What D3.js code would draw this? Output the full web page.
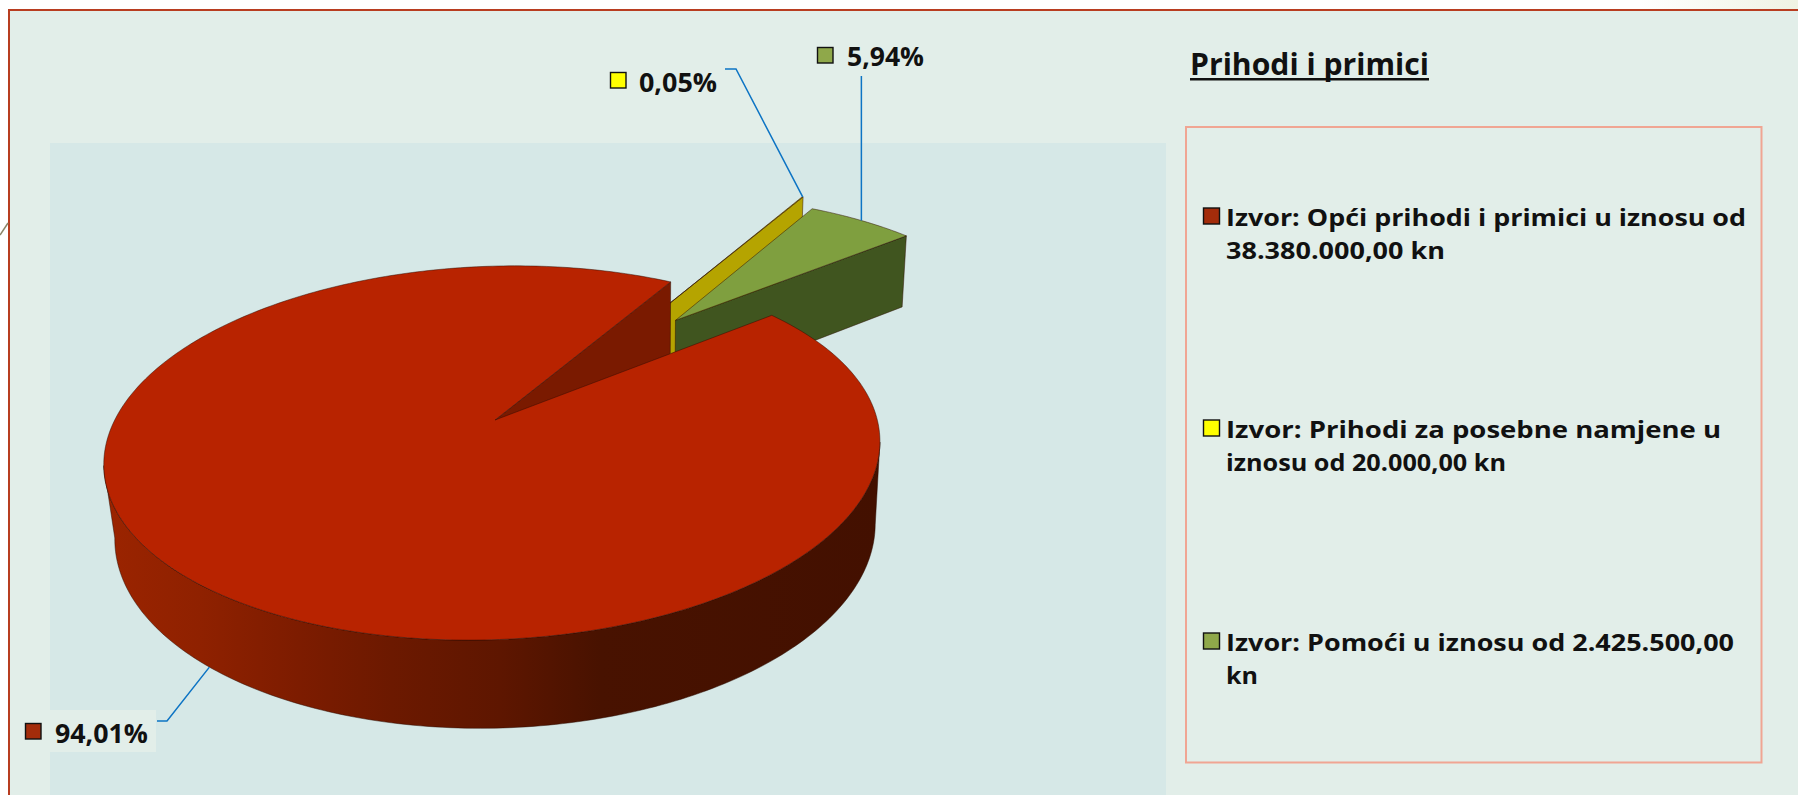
<!DOCTYPE html>
<html>
<head>
<meta charset="utf-8">
<script src="https://cdn.jsdelivr.net/npm/d3@7"></script>
<style>
  html, body { margin: 0; padding: 0; background: #fff; }
  svg { display: block; }
  text { font-family: "Open Sans", Lato, sans-serif; font-weight: 700; fill: #111; }
</style>
</head>
<body>
<svg width="1798" height="795"></svg>
<script>
// Chart data
const sources = ['Opći prihodi i primici', 'Prihodi za posebne namjene', 'Pomoći'];
const amounts = [38380000, 20000, 2425500];
const percentLabels = ['94,01%', '0,05%', '5,94%'];
const legendLines = [
  ['Izvor: Opći prihodi i primici u iznosu od', '38.380.000,00 kn'],
  ['Izvor: Prihodi za posebne namjene u', 'iznosu od 20.000,00 kn'],
  ['Izvor: Pomoći u iznosu od 2.425.500,00', 'kn'],
];
const keyColors = ['#a32c0b', '#ffff00', '#8fa84a'];
const topColors = ['#b82300', '#c4b000', '#7f9f3f'];
const wallColors = ['#7a1a00', '#b5a400', '#40551f'];
const explode = [0.42, 0.415, 0.345];
const nudge = [[0, 0], [-0.012, 0.002], [0.002, 0.016]];
const radius = [1, 1, 0.975];

const svg = d3.select('svg');
const defs = svg.append('defs');

// Background panels
const topFade = defs.append('linearGradient').attr('id', 'topFade');
topFade.append('stop').attr('offset', 0).attr('stop-color', '#fff');
topFade.append('stop').attr('offset', 1).attr('stop-color', '#eff3e3');
svg.append('rect').attr('x', 1640).attr('y', 0).attr('width', 158).attr('height', 10).attr('fill', 'url(#topFade)');
svg.append('rect').attr('x', 9).attr('y', 10).attr('width', 1800).attr('height', 800)
  .attr('fill', '#e2eee9').attr('stroke', '#b83d20').attr('stroke-width', 2);
svg.append('rect').attr('x', 50).attr('y', 143).attr('width', 1116).attr('height', 652).attr('fill', '#d6e8e7');
svg.append('line').attr('x1', 0).attr('y1', 235).attr('x2', 8).attr('y2', 223).attr('stroke', '#8a8468').attr('stroke-width', 1.5);

// Camera for the tilted pie: unit disc around the main slice's apex
const apex = [495, 420];
const sx = 382, sy = 181, shear = 11, persp = 0.176, perspX = 0.008, depth = 79, depthPersp = 0.02, depthShift = 3;
function project(u, v, h) {
  const w = 1 + persp * v + perspX * u + depthPersp * h;
  return [apex[0] + (sx * u + depthShift * h) / w, apex[1] + (-sy * v - shear * (1 - 0.35 * h) * u + depth * h) / w];
}

const startAngle = 53.6 * Math.PI / 180;
const arcs = d3.pie().sort(null).startAngle(startAngle).endAngle(startAngle + 2 * Math.PI)(amounts);
const mid = d => (d.startAngle + d.endAngle) / 2;
const mainMid = mid(arcs[0]);

// offset of a slice in disc units, relative to the main slice's apex
function offset(d) {
  const a = mid(d), e = explode[d.index], n = nudge[d.index];
  return [e * Math.sin(a) - explode[0] * Math.sin(mainMid) + n[0], e * Math.cos(a) - explode[0] * Math.cos(mainMid) + n[1]];
}
function rimPoint(d, a, h) {
  const o = offset(d), r = radius[d.index];
  return project(o[0] + r * Math.sin(a), o[1] + r * Math.cos(a), h);
}
function apexPoint(d, h) {
  const o = offset(d);
  return project(o[0], o[1], h);
}

const line = d3.line();
function rimAngles(a0, a1) {
  const n = Math.max(2, Math.ceil(Math.abs(a1 - a0) * 60));
  return d3.range(n + 1).map(i => a0 + (a1 - a0) * i / n);
}
function addPath(pts, fill) {
  return svg.append('path').attr('d', line(pts) + 'Z').attr('fill', fill)
    .attr('stroke', '#2a0a00').attr('stroke-width', 0.8).attr('stroke-opacity', 0.6).attr('stroke-linejoin', 'round');
}

// Gradient on the outer wall of the main slice
const wallStops = [[0, '#9b2400'], [0.124, '#8f2100'], [0.25, '#7d1c00'], [0.37, '#6c1900'], [0.51, '#5e1600'], [0.64, '#481200'], [1, '#431000']];
const grad = defs.append('linearGradient').attr('id', 'wall').attr('gradientUnits', 'userSpaceOnUse')
  .attr('x1', 104).attr('x2', 880).attr('y1', 0).attr('y2', 0);
wallStops.forEach(s => grad.append('stop').attr('offset', s[0]).attr('stop-color', s[1]));

// Front part of the outer wall: between the left and right extremes of each rim
function frontRim(d, h) {
  const angles = rimAngles(d.startAngle, d.endAngle);
  const x = a => rimPoint(d, a, h)[0];
  const right = d3.least(angles, a => -x(a));
  const left = d3.least(angles, a => x(a));
  return rimAngles(right, left).map(a => rimPoint(d, a, h));
}
function drawOuterWall(d) {
  addPath(frontRim(d, 0).concat(frontRim(d, 1).reverse()), 'url(#wall)');
}

function drawSlice(d, i) {
  if (i === 0) drawOuterWall(d);
  // side wall at the end of the slice faces the viewer
  addPath([apexPoint(d, 0), rimPoint(d, d.endAngle, 0), rimPoint(d, d.endAngle, 1), apexPoint(d, 1)], wallColors[i]);
  addPath([apexPoint(d, 0)].concat(rimAngles(d.startAngle, d.endAngle).map(a => rimPoint(d, a, 0))), topColors[i]);
}
// back slices first, main slice in front
drawSlice(arcs[1], 1);
drawSlice(arcs[2], 2);
drawSlice(arcs[0], 0);

// Data label: box behind the 94,01% label
svg.append('rect').attr('x', 50).attr('y', 710).attr('width', 106).attr('height', 42).attr('fill', '#e2eee9');

// Leader lines
const leaderBlue = '#0d74c4';
const greenAnchor = rimPoint(arcs[2], mid(arcs[2]), 0);
const leaders = [
  [[157, 721], [167, 721], rimPoint(arcs[0], mainMid - 0.015, 1)],
  [[725, 69], [736, 69], rimPoint(arcs[1], mid(arcs[1]), 0)],
  [[greenAnchor[0], 76], greenAnchor],
];
leaders.forEach(pts => {
  svg.append('path').attr('d', line(pts)).attr('fill', 'none').attr('stroke', leaderBlue).attr('stroke-width', 1.5);
});

// Percent labels with their keys
const labelPos = [[25, 723, 55, 743], [610, 72, 639, 92], [817, 47, 847, 66]];
const labelWidths = [93, 78, 77];
percentLabels.forEach((t, i) => {
  const p = labelPos[i];
  svg.append('rect').attr('x', p[0] + 0.5).attr('y', p[1] + 0.5).attr('width', 15.5).attr('height', 15.5)
    .attr('fill', keyColors[i]).attr('stroke', '#111').attr('stroke-width', 1.4);
  svg.append('text').attr('x', p[2]).attr('y', p[3]).attr('font-size', 27)
    .attr('textLength', labelWidths[i]).attr('lengthAdjust', 'spacingAndGlyphs').text(t);
});

// Title
svg.append('text').attr('x', 1190).attr('y', 75).attr('font-size', 31)
  .attr('textLength', 239).attr('lengthAdjust', 'spacingAndGlyphs').text('Prihodi i primici');
svg.append('rect').attr('x', 1190).attr('y', 78).attr('width', 239).attr('height', 2.5).attr('fill', '#111');

// Legend box
svg.append('rect').attr('x', 1186).attr('y', 127).attr('width', 575.5).attr('height', 635.5)
  .attr('fill', 'none').attr('stroke', '#f0a593').attr('stroke-width', 2);

const legendTop = [226, 438, 651];
const lineWidths = [[520, 219], [495, 280], [508, 32]];
legendLines.forEach((lines, i) => {
  svg.append('rect').attr('x', 1203.5).attr('y', legendTop[i] - 18).attr('width', 16).attr('height', 16)
    .attr('fill', keyColors[i]).attr('stroke', '#111').attr('stroke-width', 1.4);
  lines.forEach((t, j) => {
    svg.append('text').attr('x', 1226).attr('y', legendTop[i] + j * 33).attr('font-size', 24)
      .attr('textLength', lineWidths[i][j]).attr('lengthAdjust', 'spacingAndGlyphs').text(t);
  });
});
</script>
</body>
</html>
